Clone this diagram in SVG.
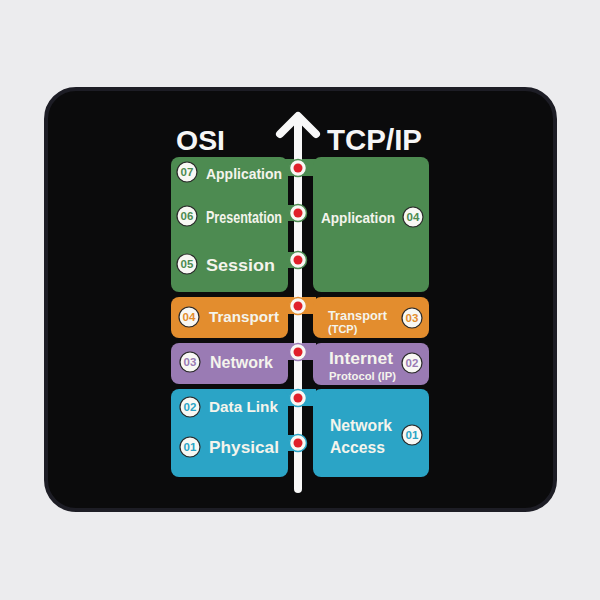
<svg xmlns="http://www.w3.org/2000/svg" width="600" height="600" viewBox="0 0 600 600">
<style>
.lbl{font-family:"Liberation Sans",Arial,sans-serif;font-weight:bold;fill:#f4f4ec}
.ttl{font-family:"Liberation Sans",Arial,sans-serif;font-weight:bold;fill:#f6f6f6}
.bn{font-family:"Liberation Sans",Arial,sans-serif;font-weight:bold;font-size:11.5px;text-anchor:middle}
.badge{fill:#f8f8f4;stroke:#2a2a2a;stroke-width:1.2}
.g{fill:#4d8b51}.o{fill:#e38d2e}.p{fill:#9a7bb4}.b{fill:#2ba4c6}
.red{fill:#e0202a}
</style>
<rect width="600" height="600" fill="#ececee"/>
<rect x="46" y="89" width="509" height="421" rx="30" fill="#0b0b0c" stroke="#1d1d25" stroke-width="4"/>

<g id="title-osi"><text class="ttl" x="176" y="150" font-size="28" textLength="49" lengthAdjust="spacingAndGlyphs">OSI</text></g>
<g id="title-tcpip"><text class="ttl" x="327" y="150" font-size="29" textLength="95" lengthAdjust="spacingAndGlyphs">TCP/IP</text></g>

<!-- bands connecting boxes to the shaft -->
<g id="bands">
<rect class="g" x="280" y="159" width="36" height="17"/>
<rect class="g" x="280" y="205" width="18" height="16"/>
<rect class="g" x="280" y="252" width="18" height="16"/>
<rect class="o" x="280" y="297" width="36" height="17"/>
<rect class="p" x="280" y="343" width="36" height="17"/>
<rect class="b" x="280" y="389" width="36" height="17"/>
<rect class="b" x="280" y="435" width="18" height="16"/>
</g>

<g id="osi-application-group">
<rect class="g" x="171" y="157" width="117" height="135" rx="8"/>
<g id="osi-07"><circle class="badge" cx="187" cy="172" r="10"/><text class="bn" x="187" y="176" fill="#4d8b51">07</text>
<text class="lbl" x="206" y="178.5" font-size="15.5" textLength="76" lengthAdjust="spacingAndGlyphs">Application</text></g>
<g id="osi-06"><circle class="badge" cx="187" cy="216" r="10"/><text class="bn" x="187" y="220" fill="#4d8b51">06</text>
<text class="lbl" x="206" y="222.5" font-size="16.5" textLength="76" lengthAdjust="spacingAndGlyphs">Presentation</text></g>
<g id="osi-05"><circle class="badge" cx="187" cy="264" r="10"/><text class="bn" x="187" y="268" fill="#4d8b51">05</text>
<text class="lbl" x="206" y="271" font-size="17" textLength="69" lengthAdjust="spacingAndGlyphs">Session</text></g>
</g>

<g id="osi-04">
<rect class="o" x="171" y="297" width="117" height="41" rx="8"/>
<circle class="badge" cx="189" cy="317" r="10"/><text class="bn" x="189" y="321" fill="#e38d2e">04</text>
<text class="lbl" x="209" y="322" font-size="15" textLength="70" lengthAdjust="spacingAndGlyphs">Transport</text>
</g>

<g id="osi-03">
<rect class="p" x="171" y="343" width="117" height="41" rx="8"/>
<circle class="badge" cx="190" cy="362" r="10"/><text class="bn" x="190" y="366" fill="#9a7bb4">03</text>
<text class="lbl" x="210" y="368" font-size="16" textLength="63" lengthAdjust="spacingAndGlyphs">Network</text>
</g>

<g id="osi-link-physical">
<rect class="b" x="171" y="389" width="117" height="88" rx="8"/>
<g id="osi-02"><circle class="badge" cx="190" cy="407" r="10"/><text class="bn" x="190" y="411" fill="#2ba4c6">02</text>
<text class="lbl" x="209" y="412" font-size="15" textLength="69" lengthAdjust="spacingAndGlyphs">Data Link</text></g>
<g id="osi-01"><circle class="badge" cx="190" cy="447" r="10"/><text class="bn" x="190" y="451" fill="#2ba4c6">01</text>
<text class="lbl" x="209" y="453" font-size="17" textLength="70" lengthAdjust="spacingAndGlyphs">Physical</text></g>
</g>

<g id="tcp-04">
<rect class="g" x="313" y="157" width="116" height="135" rx="8"/>
<text class="lbl" x="321" y="223" font-size="15" textLength="74" lengthAdjust="spacingAndGlyphs">Application</text>
<circle class="badge" cx="413" cy="217" r="10"/><text class="bn" x="413" y="221" fill="#4d8b51">04</text>
</g>

<g id="tcp-03">
<rect class="o" x="313" y="297" width="116" height="41" rx="8"/>
<text class="lbl" x="328" y="320" font-size="13.5" textLength="59" lengthAdjust="spacingAndGlyphs">Transport</text>
<text class="lbl" x="328" y="333" font-size="11">(TCP)</text>
<circle class="badge" cx="412" cy="318" r="10"/><text class="bn" x="412" y="322" fill="#e38d2e">03</text>
</g>

<g id="tcp-02">
<rect class="p" x="313" y="343" width="116" height="42" rx="8"/>
<text class="lbl" x="329" y="364" font-size="17" textLength="64" lengthAdjust="spacingAndGlyphs">Internet</text>
<text class="lbl" x="329" y="380" font-size="11.5" textLength="67" lengthAdjust="spacingAndGlyphs">Protocol (IP)</text>
<circle class="badge" cx="412" cy="363" r="10"/><text class="bn" x="412" y="367" fill="#9a7bb4">02</text>
</g>

<g id="tcp-01">
<rect class="b" x="313" y="389" width="116" height="88" rx="8"/>
<text class="lbl" x="330" y="431" font-size="16" textLength="62" lengthAdjust="spacingAndGlyphs">Network</text>
<text class="lbl" x="330" y="453" font-size="16" textLength="55" lengthAdjust="spacingAndGlyphs">Access</text>
<circle class="badge" cx="412" cy="435" r="10"/><text class="bn" x="412" y="439" fill="#2ba4c6">01</text>
</g>

<g id="connectors">
<line x1="298" y1="118" x2="298" y2="489" stroke="#f8f8f8" stroke-width="8" stroke-linecap="round"/>
<polyline points="280,134 298,116 316,134" fill="none" stroke="#f8f8f8" stroke-width="8" stroke-linecap="round" stroke-linejoin="round"/>
</g>

<g id="dots">
<g id="dot-7"><circle cx="298" cy="168" r="8.5" fill="#f8f8f4" stroke="#4d8b51" stroke-width="1.5"/><circle class="red" cx="298" cy="168" r="4.5"/></g>
<g id="dot-6"><circle cx="298" cy="213" r="8.5" fill="#f8f8f4" stroke="#4d8b51" stroke-width="1.5"/><circle class="red" cx="298" cy="213" r="4.5"/></g>
<g id="dot-5"><circle cx="298" cy="260" r="8.5" fill="#f8f8f4" stroke="#4d8b51" stroke-width="1.5"/><circle class="red" cx="298" cy="260" r="4.5"/></g>
<g id="dot-4"><circle cx="298" cy="306" r="8.5" fill="#f8f8f4" stroke="#e38d2e" stroke-width="1.5"/><circle class="red" cx="298" cy="306" r="4.5"/></g>
<g id="dot-3"><circle cx="298" cy="352" r="8.5" fill="#f8f8f4" stroke="#9a7bb4" stroke-width="1.5"/><circle class="red" cx="298" cy="352" r="4.5"/></g>
<g id="dot-2"><circle cx="298" cy="398" r="8.5" fill="#f8f8f4" stroke="#2ba4c6" stroke-width="1.5"/><circle class="red" cx="298" cy="398" r="4.5"/></g>
<g id="dot-1"><circle cx="298" cy="443" r="8.5" fill="#f8f8f4" stroke="#2ba4c6" stroke-width="1.5"/><circle class="red" cx="298" cy="443" r="4.5"/></g>
</g>
</svg>
